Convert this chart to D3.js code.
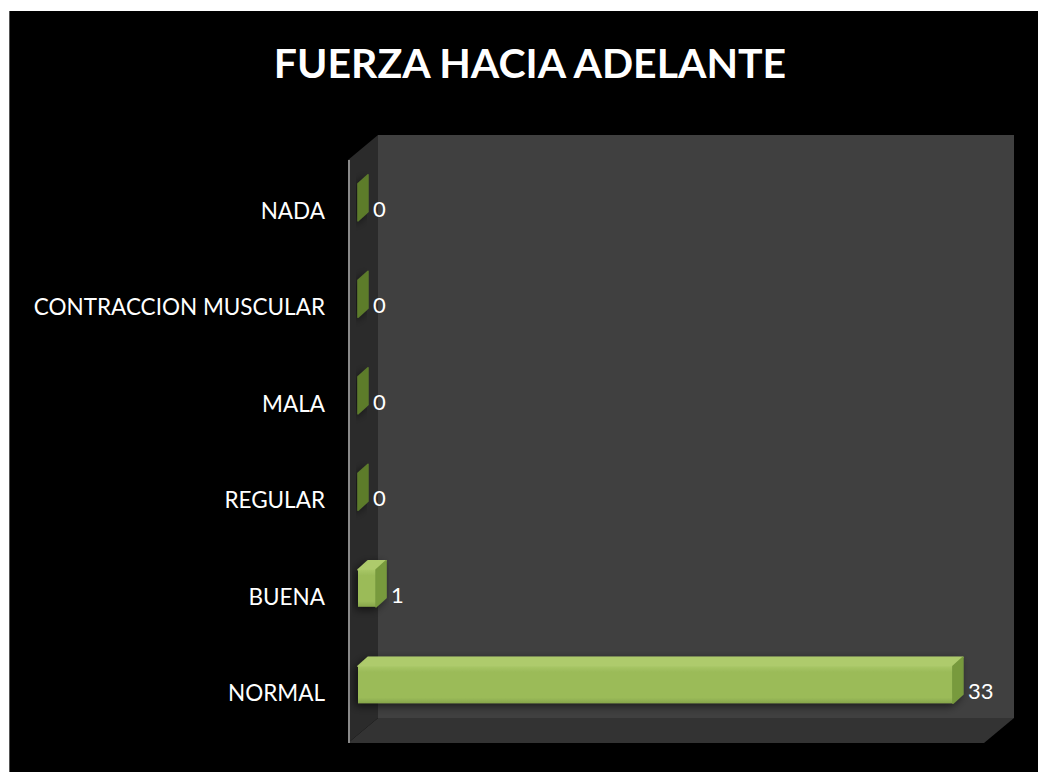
<!DOCTYPE html>
<html>
<head>
<meta charset="utf-8">
<script src="https://cdn.jsdelivr.net/npm/d3@7"></script>
<style>
  body { margin: 0; background: #fff; }
  svg { display: block; }
</style>
</head>
<body>
<div id="chart"></div>
<script>
const categories = ['NADA', 'CONTRACCION MUSCULAR', 'MALA', 'REGULAR', 'BUENA', 'NORMAL'];
const values = [0, 0, 0, 0, 1, 33];
const title = 'FUERZA HACIA ADELANTE';

const W = 1038, H = 772;
const svg = d3.select('#chart').append('svg')
    .attr('width', W)
    .attr('height', H);

const defs = svg.append('defs');
const shadow = defs.append('filter').attr('id', 'shadow')
    .attr('x', '-20%').attr('y', '-40%').attr('width', '140%').attr('height', '180%');
shadow.append('feGaussianBlur').attr('in', 'SourceAlpha').attr('stdDeviation', 4);
shadow.append('feOffset').attr('dx', -3).attr('dy', 3).attr('result', 'b');
shadow.append('feComponentTransfer').append('feFuncA').attr('type', 'linear').attr('slope', 0.6);
const merge = shadow.append('feMerge');
merge.append('feMergeNode');
merge.append('feMergeNode').attr('in', 'SourceGraphic');

const frontGrad = defs.append('linearGradient').attr('id', 'front')
    .attr('x1', 0).attr('y1', 0).attr('x2', 0).attr('y2', 1);
frontGrad.append('stop').attr('offset', '0%').attr('stop-color', '#a8c766');
frontGrad.append('stop').attr('offset', '15%').attr('stop-color', '#9bbb59');
frontGrad.append('stop').attr('offset', '85%').attr('stop-color', '#9bbb59');
frontGrad.append('stop').attr('offset', '100%').attr('stop-color', '#86a54a');

// black panel
svg.append('rect')
    .attr('x', 9).attr('y', 11)
    .attr('width', W - 9).attr('height', H - 11)
    .attr('fill', '#000');
svg.append('line')
    .attr('x1', 9.5).attr('x2', 9.5).attr('y1', 11).attr('y2', H)
    .attr('stroke', '#555').attr('stroke-width', 1);

// 3d box
const fx = 348, fy = 743, topY = 160;   // front plane
const ddx = 30, ddy = -25;              // depth offset
const backRight = 1014;

svg.append('rect')
    .attr('x', fx + ddx).attr('y', topY + ddy)
    .attr('width', backRight - fx - ddx).attr('height', fy - topY)
    .attr('fill', '#404040');

svg.append('polygon')
    .attr('points', [[fx, topY], [fx + ddx, topY + ddy], [fx + ddx, fy + ddy], [fx, fy]].join(' '))
    .attr('fill', '#2b2b2b');

svg.append('polygon')
    .attr('points', [[fx, fy], [fx + ddx, fy + ddy], [backRight, fy + ddy], [backRight - ddx, fy]].join(' '))
    .attr('fill', '#333333');

svg.append('line')
    .attr('x1', fx + 1).attr('x2', fx + 1).attr('y1', topY).attr('y2', fy)
    .attr('stroke', '#8a8a8a').attr('stroke-width', 2);

// scales
const x = d3.scaleLinear().domain([0, 36]).range([358, 1007]);
const y = d3.scaleBand().domain(categories).range([162, 741]).paddingInner(0.62).paddingOuter(0.31);

const bh = 37, bdx = 10, bdy = 9, lift = 8;

const bars = svg.append('g').selectAll('g')
    .data(categories.map((c, i) => ({ c, v: values[i] })))
    .enter().append('g')
    .attr('filter', 'url(#shadow)');

bars.each(function (d) {
    const g = d3.select(this);
    const x0 = x(0), x1 = x(d.v);
    const yc = y(d.c) + y.bandwidth() / 2 - lift;
    const y0 = yc - bh / 2, y1 = yc + bh / 2;
    if (d.v > 0) {
        g.append('polygon')
            .attr('points', [[x0, y0], [x0 + bdx, y0 - bdy], [x1 + bdx, y0 - bdy], [x1, y0]].join(' '))
            .attr('fill', '#aecb6c')
            .attr('stroke', '#aecb6c').attr('stroke-linejoin', 'round').attr('stroke-width', 1.5);
        g.append('rect')
            .attr('x', x0).attr('y', y0)
            .attr('width', x1 - x0).attr('height', bh)
            .attr('fill', 'url(#front)');
    }
    g.append('polygon')
        .attr('points', [[x1, y0], [x1 + bdx, y0 - bdy], [x1 + bdx, y1 - bdy], [x1, y1]].join(' '))
        .attr('fill', d.v > 0 ? '#789a3e' : '#5d7c2c')
        .attr('stroke', d.v > 0 ? '#789a3e' : '#5d7c2c').attr('stroke-linejoin', 'round').attr('stroke-width', 1.5);
});

// value labels
svg.append('g').selectAll('text')
    .data(categories.map((c, i) => ({ c, v: values[i] })))
    .enter().append('text')
    .attr('x', d => x(d.v) + bdx + 5)
    .attr('y', d => y(d.c) + y.bandwidth() / 2 - 2)
    .attr('dominant-baseline', 'central')
    .attr('fill', '#fff')
    .attr('font-family', 'Lato, "Open Sans", sans-serif')
    .attr('font-size', 22)
    .text(d => d.v);

// category labels
svg.append('g').selectAll('text')
    .data(categories)
    .enter().append('text')
    .attr('x', 325)
    .attr('y', d => y(d) + y.bandwidth() / 2)
    .attr('text-anchor', 'end')
    .attr('dominant-baseline', 'central')
    .attr('fill', '#fff')
    .attr('font-family', 'Lato, "Open Sans", sans-serif')
    .attr('font-size', 22.5)
    .text(d => d);

svg.append('text')
    .attr('x', 530)
    .attr('y', 78)
    .attr('text-anchor', 'middle')
    .attr('fill', '#fff')
    .attr('font-family', 'Lato, "Open Sans", sans-serif')
    .attr('font-weight', 'bold')
    .attr('font-size', 41)
    .text(title);
</script>
</body>
</html>
